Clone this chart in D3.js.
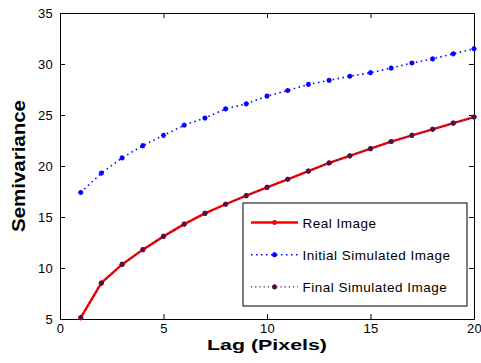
<!DOCTYPE html>
<html>
<head>
<meta charset="utf-8">
<script src="https://cdn.jsdelivr.net/npm/d3@7"></script>
<style>
  body { margin: 0; background: #fff; }
  svg { display: block; font-family: "Liberation Sans", Arial, sans-serif; }
</style>
</head>
<body>
<div id="chart"></div>
<script>
// data
var lags = [1, 2, 3, 4, 5, 6, 7, 8, 9, 10, 11, 12, 13, 14, 15, 16, 17, 18, 19, 20];
var realImage = [5.1, 8.55, 10.35, 11.8, 13.1, 14.3, 15.35, 16.25, 17.1, 17.9, 18.7, 19.5, 20.3, 21.0, 21.7, 22.4, 23.0, 23.6, 24.2, 24.8];
var initialSim = [17.4, 19.3, 20.8, 22.0, 23.0, 24.0, 24.7, 25.6, 26.1, 26.85, 27.4, 28.0, 28.4, 28.8, 29.15, 29.6, 30.1, 30.5, 31.0, 31.5];
var finalSim = [5.15, 8.5, 10.35, 11.8, 13.1, 14.3, 15.35, 16.25, 17.1, 17.9, 18.7, 19.5, 20.3, 21.0, 21.7, 22.4, 23.0, 23.6, 24.2, 24.8];
var xTicks = [0, 5, 10, 15, 20];
var yTicks = [5, 10, 15, 20, 25, 30, 35];
var seriesNames = ["Real Image", "Initial Simulated Image", "Final Simulated Image"];

var width = 481,
    height = 363,
    margin = { left: 60, right: 7, top: 13, bottom: 44 };

var svg = d3.select("#chart").append("svg")
    .attr("width", width)
    .attr("height", height);

var x = d3.scaleLinear().domain([0, 20]).range([margin.left, width - margin.right]);
var y = d3.scaleLinear().domain([5, 35]).range([height - margin.bottom, margin.top]);

var tickLen = 5;

// axes (matlab box, ticks pointing in)
svg.append("g")
    .attr("transform", "translate(0," + y(5) + ")")
    .call(d3.axisBottom(x).tickValues(xTicks).tickSizeInner(-tickLen).tickSizeOuter(0).tickPadding(5));
svg.append("g")
    .attr("transform", "translate(0," + y(35) + ")")
    .call(d3.axisTop(x).tickValues(xTicks).tickSizeInner(-tickLen).tickSizeOuter(0).tickFormat(""));
svg.append("g")
    .attr("transform", "translate(" + x(0) + ",0)")
    .call(d3.axisLeft(y).tickValues(yTicks).tickSizeInner(-tickLen).tickSizeOuter(0).tickPadding(7));
svg.append("g")
    .attr("transform", "translate(" + x(20) + ",0)")
    .call(d3.axisRight(y).tickValues(yTicks).tickSizeInner(-tickLen).tickSizeOuter(0).tickFormat(""));

svg.selectAll(".domain").attr("stroke", "#000").attr("stroke-width", 1);
svg.selectAll(".tick line").attr("stroke", "#000");
svg.selectAll(".tick text")
    .attr("font-size", 13)
    .attr("letter-spacing", 0.3)
    .attr("font-family", "Liberation Sans, Arial, sans-serif")
    .attr("fill", "#000");

// axis labels
svg.append("text")
    .attr("x", (x(0) + x(20)) / 2)
    .attr("y", 350)
    .attr("text-anchor", "middle")
    .attr("font-weight", "bold")
    .attr("font-size", 14.5)
    .attr("textLength", 120)
    .attr("lengthAdjust", "spacingAndGlyphs")
    .text("Lag (Pixels)");

svg.append("text")
    .attr("transform", "translate(25," + (y(5) + y(35)) / 2 + ") rotate(-90)")
    .attr("text-anchor", "middle")
    .attr("font-weight", "bold")
    .attr("font-size", 17.5)
    .attr("textLength", 132)
    .attr("lengthAdjust", "spacingAndGlyphs")
    .text("Semivariance");

var styles = [
    { color: "#ff0000", width: 2.4, dash: null, data: realImage },
    { color: "#0000ff", width: 1.6, dash: "1.5,3.5", data: initialSim },
    { color: "#4a1048", width: 1.3, dash: "1.2,3", data: finalSim }
];

var line = d3.line()
    .x(function (d, i) { return x(lags[i]); })
    .y(function (d) { return y(d); });

// small asterisk marker
function star(s) {
    var a = s * 0.7;
    return "M" + (-s) + ",0L" + s + ",0M0," + (-s) + "L0," + s +
        "M" + (-a) + "," + (-a) + "L" + a + "," + a +
        "M" + (-a) + "," + a + "L" + a + "," + (-a);
}

styles.forEach(function (st) {
    svg.append("path")
        .datum(st.data)
        .attr("d", line)
        .attr("fill", "none")
        .attr("stroke", st.color)
        .attr("stroke-width", st.width)
        .attr("stroke-dasharray", st.dash);

    svg.append("g").selectAll("path")
        .data(st.data)
        .enter()
        .append("path")
        .attr("transform", function (d, i) { return "translate(" + x(lags[i]) + "," + y(d) + ")"; })
        .attr("d", star(2.6))
        .attr("stroke", st.color)
        .attr("stroke-width", 1.4);
});

// legend
var legend = svg.append("g").attr("transform", "translate(243,203)");
legend.append("rect")
    .attr("width", 224)
    .attr("height", 103)
    .attr("fill", "#fff")
    .attr("stroke", "#000")
    .attr("stroke-width", 1);

var rows = legend.selectAll(".row")
    .data(styles)
    .enter()
    .append("g")
    .attr("class", "row")
    .attr("transform", function (d, i) { return "translate(0," + (19.5 + i * 32.2) + ")"; });

rows.append("line")
    .attr("x1", 8).attr("x2", 55)
    .attr("stroke", function (d) { return d.color; })
    .attr("stroke-width", function (d) { return d.width; })
    .attr("stroke-dasharray", function (d) { return d.dash; });

rows.append("path")
    .attr("transform", "translate(31.5,0)")
    .attr("d", star(2.6))
    .attr("stroke", function (d) { return d.color; })
    .attr("stroke-width", 1.4);

rows.append("text")
    .attr("x", 59.5)
    .attr("y", 5)
    .attr("font-size", 13.5)
    .attr("letter-spacing", 0.5)
    .text(function (d, i) { return seriesNames[i]; });
</script>
</body>
</html>
